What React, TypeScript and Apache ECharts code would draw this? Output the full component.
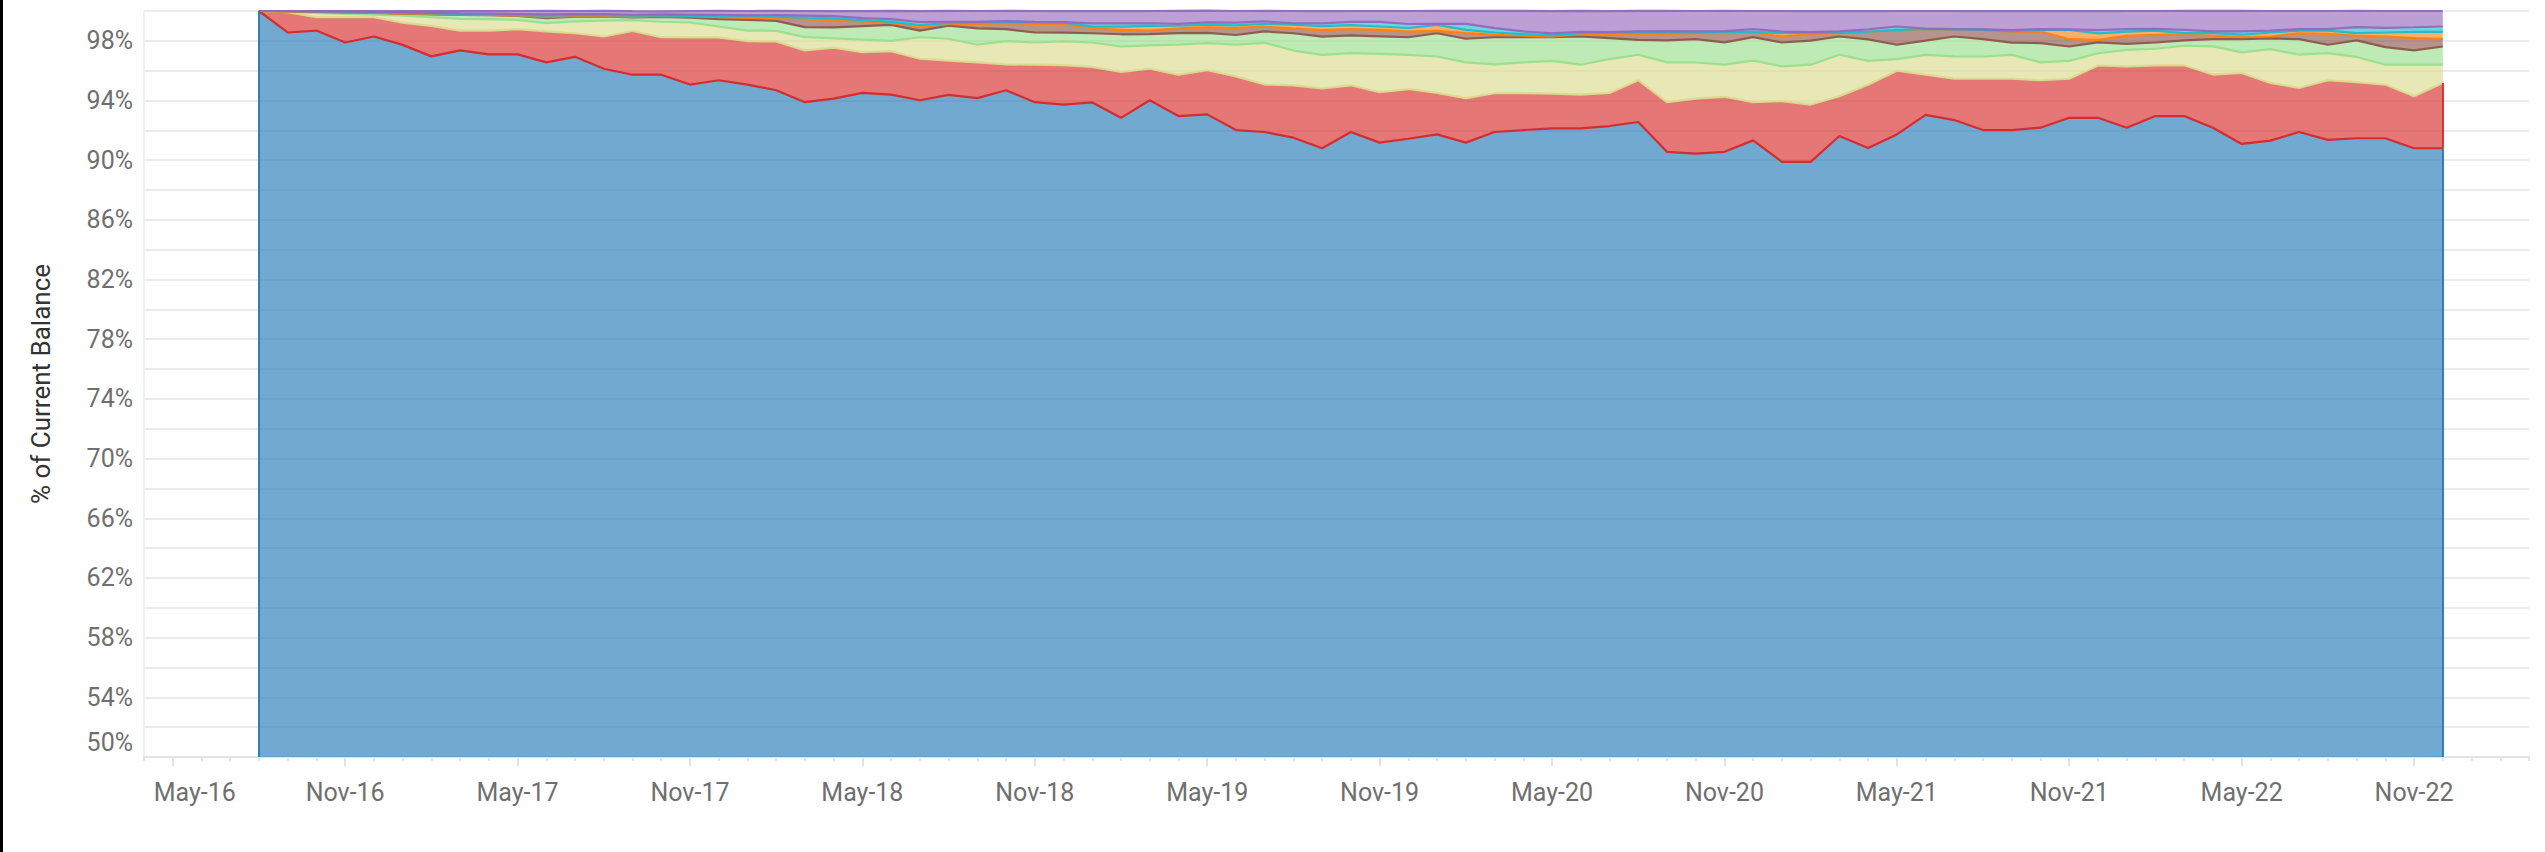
import React, { useEffect, useRef } from "react";
import * as echarts from "echarts";

// Months with data (Aug-2016 .. Dec-2022)
const months = [
  "Aug-16","Sep-16","Oct-16","Nov-16","Dec-16",
  "Jan-17","Feb-17","Mar-17","Apr-17","May-17","Jun-17","Jul-17","Aug-17","Sep-17","Oct-17","Nov-17","Dec-17",
  "Jan-18","Feb-18","Mar-18","Apr-18","May-18","Jun-18","Jul-18","Aug-18","Sep-18","Oct-18","Nov-18","Dec-18",
  "Jan-19","Feb-19","Mar-19","Apr-19","May-19","Jun-19","Jul-19","Aug-19","Sep-19","Oct-19","Nov-19","Dec-19",
  "Jan-20","Feb-20","Mar-20","Apr-20","May-20","Jun-20","Jul-20","Aug-20","Sep-20","Oct-20","Nov-20","Dec-20",
  "Jan-21","Feb-21","Mar-21","Apr-21","May-21","Jun-21","Jul-21","Aug-21","Sep-21","Oct-21","Nov-21","Dec-21",
  "Jan-22","Feb-22","Mar-22","Apr-22","May-22","Jun-22","Jul-22","Aug-22","Sep-22","Oct-22","Nov-22","Dec-22",
];

// Axis categories (axis extends a little beyond the data on both sides)
const leadMonths = ["Apr-16", "May-16", "Jun-16", "Jul-16"];
const trailMonths = ["Jan-23", "Feb-23", "Mar-23"];
const axisMonths = [...leadMonths, ...months, ...trailMonths];

// Labelled x ticks
const xLabels = [
  "May-16","Nov-16","May-17","Nov-17","May-18","Nov-18","May-19",
  "Nov-19","May-20","Nov-20","May-21","Nov-21","May-22","Nov-22",
];

// Labelled y ticks (%)
const yLabels = [50, 54, 58, 62, 66, 70, 74, 78, 82, 86, 90, 94, 98];

// Shares of current balance (%) per status, bottom to top
const current = [
  100, 98.56, 98.69, 97.89, 98.29, 97.73, 96.96, 97.36, 97.09, 97.09, 96.56, 96.93, 96.13, 95.73, 95.73, 95.07,
  95.36, 95.07, 94.69, 93.89, 94.13, 94.51, 94.4, 94.02, 94.38, 94.16, 94.69, 93.89, 93.73, 93.87, 92.84,
  94.02, 92.96, 93.07, 92.02, 91.89, 91.51, 90.8, 91.89, 91.18, 91.44, 91.73, 91.18, 91.89, 92.02, 92.13,
  92.13, 92.29, 92.56, 90.56, 90.44, 90.56, 91.33, 89.89, 89.89, 91.62, 90.82, 91.73, 93.04, 92.69, 92.02,
  92.02, 92.18, 92.84, 92.84, 92.18, 92.96, 92.96, 92.18, 91.09, 91.31, 91.89, 91.36, 91.47, 91.47, 90.8, 90.8,
];
const dpd30 = [
  0, 1.36, 0.89, 1.69, 1.29, 1.49, 2.04, 1.33, 1.6, 1.69, 2.07, 1.58, 2.16, 2.93, 2.51, 3.16,
  2.87, 2.91, 3.27, 3.47, 3.42, 2.73, 2.91, 2.78, 2.29, 2.4, 1.73, 2.51, 2.64, 2.38, 3.07,
  2.11, 2.78, 2.96, 3.6, 3.18, 3.51, 4.02, 3.13, 3.38, 3.33, 2.78, 2.98, 2.6, 2.47, 2.33,
  2.27, 2.22, 2.8, 3.33, 3.69, 3.69, 2.56, 4.07, 3.84, 2.67, 4.24, 4.27, 2.69, 2.78, 3.44,
  3.44, 3.18, 2.62, 3.51, 4.11, 3.4, 3.4, 3.56, 4.76, 3.87, 2.96, 4.0, 3.76, 3.6, 3.49, 4.38,
];
const dpd60 = [
  0, 0.04, 0.27, 0.22, 0.18, 0.47, 0.58, 0.78, 0.76, 0.62, 0.56, 0.8, 1.07, 0.73, 1.04, 1.0,
  0.73, 0.71, 0.71, 0.89, 0.62, 0.84, 0.69, 1.44, 1.47, 1.18, 1.56, 1.49, 1.6, 1.64, 1.71,
  1.56, 2.0, 1.82, 2.13, 2.8, 2.33, 2.24, 2.16, 2.56, 2.29, 2.44, 2.4, 1.93, 2.07, 2.2,
  2.0, 2.27, 1.71, 2.67, 2.42, 2.16, 2.78, 2.33, 2.67, 2.78, 1.6, 0.78, 1.33, 1.49, 1.49,
  1.6, 1.2, 1.2, 0.82, 1.11, 1.11, 1.31, 1.89, 1.38, 2.27, 2.22, 1.82, 1.69, 1.33, 2.11, 1.22,
];
const dpd90 = [
  0, 0.02, 0.09, 0.11, 0.11, 0.13, 0.2, 0.27, 0.27, 0.27, 0.33, 0.31, 0.27, 0.18, 0.33, 0.33,
  0.49, 0.71, 0.67, 0.67, 0.73, 0.91, 1.07, 0.44, 0.87, 1.09, 0.8, 0.67, 0.58, 0.62, 0.82,
  0.76, 0.78, 0.69, 0.64, 0.76, 1.16, 1.22, 1.18, 1.18, 1.18, 1.56, 1.58, 1.82, 1.69, 1.58,
  1.89, 1.4, 1.0, 1.47, 1.56, 1.49, 1.58, 1.6, 1.62, 1.22, 1.44, 0.96, 0.96, 1.33, 1.16,
  0.82, 1.29, 0.96, 0.73, 0.4, 0.42, 0.36, 0.49, 0.89, 0.71, 1.04, 0.56, 1.11, 1.18, 0.96, 1.22,
];
const dpd120 = [
  0, 0, 0.02, 0.02, 0.02, 0.02, 0.02, 0.02, 0.02, 0.02, 0.07, 0.04, 0.02, 0.04, 0.04, 0.07,
  0.13, 0.13, 0.16, 0.53, 0.49, 0.31, 0.11, 0.27, 0.11, 0.31, 0.4, 0.58, 0.58, 0.33, 0.29,
  0.24, 0.31, 0.36, 0.47, 0.33, 0.31, 0.44, 0.42, 0.44, 0.38, 0.16, 0.38, 0.16, 0.09, 0.04,
  0.16, 0.24, 0.4, 0.44, 0.4, 0.62, 0.31, 0.4, 0.44, 0.22, 0.51, 0.96, 0.76, 0.49, 0.62,
  0.73, 0.78, 0.49, 0.16, 0.53, 0.51, 0.38, 0.22, 0.13, 0.13, 0.4, 0.73, 0.31, 0.71, 0.82, 0.51,
];
const dpd150 = [
  0, 0.02, 0.02, 0.02, 0.02, 0.04, 0.04, 0.04, 0.04, 0.04, 0.09, 0.07, 0.07, 0.07, 0.04, 0.04,
  0.07, 0.09, 0.11, 0.11, 0.11, 0.09, 0.09, 0.11, 0.07, 0.09, 0.07, 0.09, 0.09, 0.11, 0.22,
  0.31, 0.18, 0.18, 0.18, 0.18, 0.27, 0.27, 0.27, 0.22, 0.24, 0.4, 0.22, 0.16, 0.11, 0.09,
  0.07, 0.13, 0.09, 0.09, 0.04, 0.09, 0.04, 0.22, 0.09, 0.04, 0, 0.04, 0, 0, 0,
  0.04, 0.11, 0.62, 0.44, 0.29, 0.29, 0.11, 0.18, 0.16, 0.27, 0.18, 0.22, 0.18, 0.27, 0.42, 0.47,
];
const dpd180 = [
  0, 0, 0, 0.02, 0.04, 0.04, 0.04, 0.04, 0.04, 0.07, 0.09, 0.07, 0.07, 0.07, 0.09, 0.09,
  0.09, 0.09, 0.11, 0.13, 0.16, 0.13, 0.18, 0.2, 0.09, 0.04, 0.07, 0.04, 0.04, 0.22, 0.22,
  0.18, 0.13, 0.16, 0.18, 0.16, 0.09, 0.18, 0.22, 0.31, 0.27, 0.07, 0.4, 0.29, 0.18, 0.13,
  0.09, 0.04, 0.07, 0.09, 0.09, 0.04, 0.18, 0.11, 0.04, 0.09, 0.16, 0.22, 0.04, 0, 0.04,
  0.07, 0.04, 0.04, 0.22, 0.16, 0.11, 0.22, 0.11, 0.22, 0.13, 0.09, 0.09, 0.4, 0.31, 0.31, 0.36,
];
const chargedOff = [
  0, 0, 0.02, 0.02, 0.04, 0.07, 0.11, 0.16, 0.18, 0.2, 0.24, 0.2, 0.22, 0.24, 0.2, 0.24,
  0.27, 0.29, 0.29, 0.31, 0.33, 0.47, 0.56, 0.73, 0.73, 0.73, 0.69, 0.73, 0.73, 0.82, 0.82,
  0.82, 0.87, 0.78, 0.78, 0.71, 0.82, 0.82, 0.73, 0.73, 0.87, 0.87, 0.87, 1.16, 1.38, 1.49,
  1.4, 1.4, 1.38, 1.36, 1.36, 1.36, 1.22, 1.38, 1.4, 1.36, 1.22, 1.04, 1.18, 1.22, 1.22,
  1.27, 1.22, 1.22, 1.27, 1.22, 1.2, 1.27, 1.38, 1.38, 1.31, 1.22, 1.22, 1.09, 1.13, 1.09, 1.04,
];

const statusNames = ["Current", "30 DPD", "60 DPD", "90 DPD", "120 DPD", "150 DPD", "180 DPD", "Charged Off"];
const statusValues = [current, dpd30, dpd60, dpd90, dpd120, dpd150, dpd180, chargedOff];
const statusColors = ["#1f77b4", "#d62728", "#dbdb8d", "#98df8a", "#8c564b", "#ff7f0e", "#17becf", "#9467bd"];

const FONT = "Roboto, 'Noto Sans', sans-serif";

export default function App() {
  const ref = useRef<HTMLDivElement>(null);

  useEffect(() => {
    if (!ref.current) return;
    const chart = echarts.init(ref.current, undefined, { renderer: "svg" });

    const pairs = (vals: number[]) => months.map((m, i) => [m, vals[i]]);

    const areaSeries = statusValues.map((vals, i) => ({
      name: statusNames[i],
      type: "line",
      stack: "areas",
      xAxisIndex: 0,
      data: pairs(vals),
      symbol: "none",
      showSymbol: false,
      lineStyle: { width: 0, opacity: 0 },
      areaStyle: { color: statusColors[i], opacity: 0.63 },
      z: 2,
      silent: true,
    }));

    const lastIdx = months.length - 1;
    const lastMonth = months[lastIdx];
    const blueTop = current[lastIdx];
    const redTop = current[lastIdx] + dpd30[lastIdx];
    (areaSeries[0] as any).markLine = {
      symbol: "none",
      silent: true,
      label: { show: false },
      lineStyle: { color: statusColors[0], width: 2, type: "solid", opacity: 0.9 },
      data: [
        [{ coord: [months[0], 50] }, { coord: [months[0], 100] }],
        [{ coord: [lastMonth, 50] }, { coord: [lastMonth, blueTop] }],
        [
          { coord: [lastMonth, blueTop], lineStyle: { color: statusColors[1] } },
          { coord: [lastMonth, redTop] },
        ],
      ],
    };

    const lineSeries = statusValues.map((vals, i) => ({
      name: statusNames[i] + " edge",
      type: "line",
      stack: "edges",
      xAxisIndex: 0,
      data: pairs(vals),
      symbol: "none",
      showSymbol: false,
      clip: false,
      lineStyle: {
        width: 2.2,
        color: statusColors[Math.min(i + 1, statusColors.length - 1)],
        opacity: 0.95,
      },
      z: 3,
      silent: true,
    }));

    const majorTick = (_idx: number, value: string) => xLabels.includes(value);

    chart.setOption({
      animation: false,
      textStyle: { fontFamily: FONT },
      grid: { left: 144, right: 16, top: 11, bottom: 95, containLabel: false },
      xAxis: [
        {
          type: "category",
          data: axisMonths,
          boundaryGap: false,
          position: "bottom",
          axisLine: { show: true, lineStyle: { color: "#e3e3e3", width: 2 } },
          axisTick: { show: true, interval: majorTick, length: 9, lineStyle: { color: "#e3e3e3", width: 2 } },
          axisLabel: {
            show: true,
            interval: majorTick,
            margin: 23,
            fontSize: 25,
            color: "#6f6f6f",
            fontFamily: FONT,
            formatter: (v: string) => (v === xLabels[0] ? `{first|${v}}` : v),
            rich: {
              first: { fontSize: 25, color: "#6f6f6f", fontFamily: FONT, padding: [0, 0, 0, 44] },
            },
          },
          splitLine: { show: false },
        },
        {
          type: "category",
          data: axisMonths,
          boundaryGap: false,
          position: "bottom",
          axisLine: { show: false },
          axisTick: { show: true, interval: 0, length: 4, lineStyle: { color: "#e3e3e3", width: 2 } },
          axisLabel: { show: false },
          splitLine: { show: false },
        },
      ],
      yAxis: {
        type: "value",
        min: 50,
        max: 100,
        interval: 2,
        name: "% of Current Balance",
        nameLocation: "middle",
        nameRotate: 90,
        nameGap: 90,
        nameTextStyle: { fontSize: 26, color: "#333333", fontFamily: FONT },
        axisLine: { show: true, lineStyle: { color: "#ececec", width: 1.5 } },
        axisTick: { show: false },
        axisLabel: {
          margin: 11,
          fontSize: 25,
          color: "#6f6f6f",
          fontFamily: FONT,
          formatter: (v: number) =>
            yLabels.includes(v) ? (v === yLabels[0] ? `{low|${v}%}` : `${v}%`) : "",
          rich: {
            low: { fontSize: 25, color: "#6f6f6f", fontFamily: FONT, padding: [0, 0, 30, 0] },
          },
        },
        splitLine: { show: true, lineStyle: { color: "#ebebeb", width: 2 } },
      },
      graphic: [
        { type: "rect", left: 0, top: 0, shape: { x: 0, y: 0, width: 3, height: 852 }, style: { fill: "#000" }, silent: true },
      ],
      series: [...areaSeries, ...lineSeries],
    });

    return () => chart.dispose();
  }, []);

  return (
    <div
      ref={ref}
      style={{ position: "fixed", left: 0, top: 0, width: 2545, height: 852, background: "#fff" }}
    />
  );
}
